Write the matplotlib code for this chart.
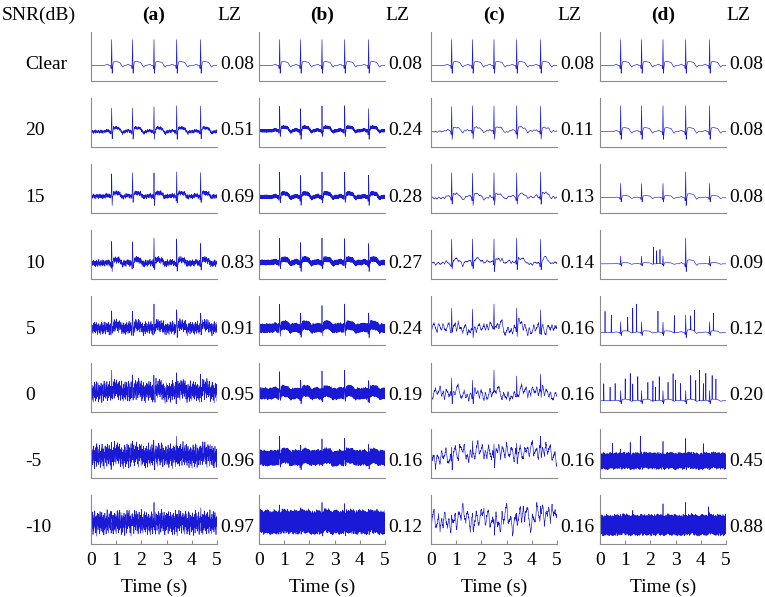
import numpy as np
import matplotlib.pyplot as plt

plt.rcParams['font.family'] = ['Liberation Serif', 'DejaVu Serif']
plt.rcParams['font.size'] = 14

# labels
snr_labels = ['Clear', '20', '15', '10', '5', '0', '-5', '-10']
col_titles = ['(a)', '(b)', '(c)', '(d)']

# LZ values, one list per column (a..d), rows top to bottom
lz_a = [0.08, 0.51, 0.69, 0.83, 0.91, 0.95, 0.96, 0.97]
lz_b = [0.08, 0.24, 0.28, 0.27, 0.24, 0.19, 0.16, 0.12]
lz_c = [0.08, 0.11, 0.13, 0.14, 0.16, 0.16, 0.16, 0.16]
lz_d = [0.08, 0.08, 0.08, 0.09, 0.12, 0.20, 0.45, 0.88]

# R peak times (s) and one beat (offset s, level)
beat_times = [0.82, 1.65, 2.50, 3.40, 4.35]
beat_dt = [-0.30, -0.22, -0.16, -0.10, -0.04, -0.02, 0.00, 0.02, 0.04,
           0.07, 0.15, 0.25, 0.32, 0.38, 0.44, 0.50]
beat_val = [0.00, 0.03, 0.05, 0.00, 0.00, -0.12, 1.00, -0.30, -0.05,
            0.14, 0.16, 0.14, 0.12, 0.02, -0.06, 0.00]

# hand typed noise values
noise_seq = [0.42, -0.81, 0.15, 0.67, -0.33, -0.95, 0.58, 0.06, -0.47, 0.89,
             -0.12, -0.64, 0.31, 0.77, -0.88, 0.24, -0.05, 0.53, -0.71, 0.92,
             -0.29, 0.11, -0.56, 0.38, 0.84, -0.93, 0.02, -0.37, 0.69, -0.18,
             0.47, -0.76, 0.27, 0.61, -0.44, -0.09, 0.83, -0.66, 0.19, -0.97,
             0.55, 0.34, -0.22, 0.73, -0.51, 0.08, -0.85, 0.46, 0.96, -0.31,
             -0.60, 0.14, 0.79, -0.40, 0.25, -0.74, 0.63, -0.03, -0.58, 0.88,
             -0.20, 0.36, -0.91, 0.50, 0.12, -0.68, 0.71, -0.35, 0.04, 0.94,
             -0.52, -0.16, 0.59, -0.83, 0.29, 0.66, -0.45, -0.99, 0.41, 0.17,
             -0.27, 0.82, -0.62, 0.07, -0.39, 0.75, -0.10, 0.52, -0.87, 0.33,
             0.90, -0.48, -0.14, 0.64, -0.72, 0.22, -0.57, 0.86, 0.01, -0.34,
             0.57, -0.79, 0.44, -0.07, 0.70, -0.94, 0.30, 0.13, -0.65, 0.81,
             -0.24, -0.53, 0.48, 0.09, -0.90, 0.62, -0.42, 0.20, 0.98, -0.30,
             -0.70, 0.37, -0.15, 0.55, -0.84, 0.26, 0.78, -0.50, -0.02, 0.43,
             -0.63, 0.91, -0.26, 0.10, -0.78, 0.68, -0.43, 0.18, 0.85, -0.59,
             -0.11, 0.50, -0.92, 0.35, 0.60, -0.36, -0.08, 0.74, -0.69]

# kind of noise per column and its size per row
noise_kind = ['white', 'fast', 'smooth', 'fast']
amp_a = [0, 0.08, 0.12, 0.17, 0.38, 0.50, 0.62, 0.75]
amp_b = [0, 0.07, 0.09, 0.13, 0.25, 0.35, 0.60, 1.30]
amp_c = [0, 0.05, 0.08, 0.12, 0.28, 0.32, 0.38, 0.60]
amp_d = [0, 0, 0, 0, 0, 0, 0.45, 0.60]
gain_a = [1, 1, 1, 1, 1, 0.8, 0.6, 0.5]
gain_b = [1, 1, 1, 1, 1, 1, 1, 0.8]
gain_c = [1, 1, 1, 1, 0.7, 0.6, 0.4, 0.3]
gain_d = [1, 1, 1, 1, 1, 1, 0.6, 0.5]

# column (d): R peak heights and extra spikes per row
d_beat_h = [[1, 1, 1, 1, 1], [1, 1, 1, 1, 1], [0.55, 0.55, 0.55, 1, 0.55],
            [0.3, 0.3, 0.3, 1, 0.3], [0.3, 0.3, 0.3, 0.5, 0.3],
            [0.3, 0.3, 0.3, 0.3, 0.3], [0.3, 0.3, 0.3, 0.3, 0.3],
            [0.3, 0.3, 0.3, 0.3, 0.3]]
d_spike_t = [[], [], [], [2.12, 2.25, 2.38],
             [0.2, 0.45, 1.1, 1.3, 1.45, 2.3, 2.95, 3.6, 3.75, 4.5],
             [0.15, 0.4, 0.6, 1.0, 1.2, 1.3, 1.5, 1.9, 2.1, 2.2, 2.35, 2.7,
              2.9, 3.0, 3.2, 3.6, 3.8, 3.95, 4.1, 4.2, 4.45, 4.6],
             [0.5, 1.2, 1.6, 2.5, 3.4, 4.1], [1.3, 2.5, 3.4, 4.3]]
d_spike_h = [[], [], [], [0.66, 0.5, 0.55],
             [0.6, 0.5, 0.4, 0.7, 0.8, 0.6, 0.5, 0.4, 0.6, 0.5],
             [0.5, 0.4, 0.5, 0.6, 0.8, 0.5, 0.7, 0.5, 0.6, 0.4, 0.7, 0.5,
              0.8, 0.6, 0.5, 0.7, 0.6, 0.9, 0.5, 0.8, 0.7, 0.6],
             [0.5, 0.6, 0.9, 0.5, 0.6, 0.5], [0.4, 0.5, 0.5, 0.4]]

lz = [lz_a, lz_b, lz_c, lz_d]
amps = [amp_a, amp_b, amp_c, amp_d]
gains = [gain_a, gain_b, gain_c, gain_d]

t = np.arange(0, 5.0001, 0.01)
L = len(noise_seq)
seq = np.array(noise_seq)


def ecg(heights):
    y = np.zeros_like(t)
    for tb, h in zip(beat_times, heights):
        y += h * np.interp(t, tb + np.array(beat_dt), beat_val, left=0, right=0)
    return y


def noise(kind, off):
    i = np.arange(len(t))
    idx = (off + i + 13 * (i // L)) % L
    if kind == 'white':
        v = seq[idx]
        return v * (0.5 + 0.5 * np.abs(v))
    if kind == 'fast':
        return np.where(i % 2 == 0, 1, -1) * (0.6 + 0.4 * np.abs(seq[idx]))
    # smooth: wiggles every 0.06 s, a slow drift and a little fine jitter
    tk = np.arange(0, 5.07, 0.06)
    vk = seq[(off + np.arange(len(tk))) % L]
    ts = np.arange(0, 5.3, 0.25)
    vs = seq[(off + 40 + 2 * np.arange(len(ts))) % L]
    return 0.7 * np.interp(t, tk, vk) + 0.5 * np.interp(t, ts, vs) + 0.12 * seq[idx]


fig = plt.figure(figsize=(7.65, 5.97), dpi=100)
W, H = 765, 597
col_left = [91, 259, 431, 600]
ax_w, ax_h = 126, 49
row_bottom = [81 + 66.1 * r for r in range(8)]

for c in range(4):
    for r in range(8):
        ax = fig.add_axes([col_left[c] / W, 1 - row_bottom[r] / H, ax_w / W, ax_h / H])
        if c == 3:
            y = ecg(d_beat_h[r]) * gains[c][r]
            for ts, hs in zip(d_spike_t[r], d_spike_h[r]):
                y[int(round(ts * 100))] += hs
        else:
            y = ecg([1] * 5) * gains[c][r]
        y = y + amps[c][r] * noise(noise_kind[c], 17 * c + 29 * r)
        ax.plot(t, y, color='#1a1ad6', lw=0.45)
        lo, hi = y.min(), y.max()
        m = 0.23 * (hi - lo)
        ax.set_ylim(lo - m, hi + m)
        ax.set_xlim(0, 5)
        for s in ['top', 'right']:
            ax.spines[s].set_visible(False)
        for s in ['left', 'bottom']:
            ax.spines[s].set_color('#8c8c8c')
        ax.set_yticks([])
        if r == 7:
            ax.set_xticks(range(6))
            ax.tick_params(axis='x', direction='in', length=3, color='#8c8c8c', pad=6)
            ax.set_xlabel('Time (s)', labelpad=7)
        else:
            ax.set_xticks([])
        ax.text(1.025, 0.33, '%.2f' % lz[c][r], transform=ax.transAxes,
                ha='left', va='center')
        if c == 0:
            ax.text(-0.52, 0.33, snr_labels[r], transform=ax.transAxes,
                    ha='left', va='center')
    fig.text((col_left[c] + ax_w / 2) / W, 1 - 15 / H, col_titles[c],
             ha='center', va='center', fontweight='bold')
    fig.text((col_left[c] + ax_w + 12) / W, 1 - 15 / H, 'LZ',
             ha='center', va='center')

fig.text(2 / W, 1 - 15 / H, 'SNR(dB)', ha='left', va='center')

fig.savefig('out.png', dpi=100)
